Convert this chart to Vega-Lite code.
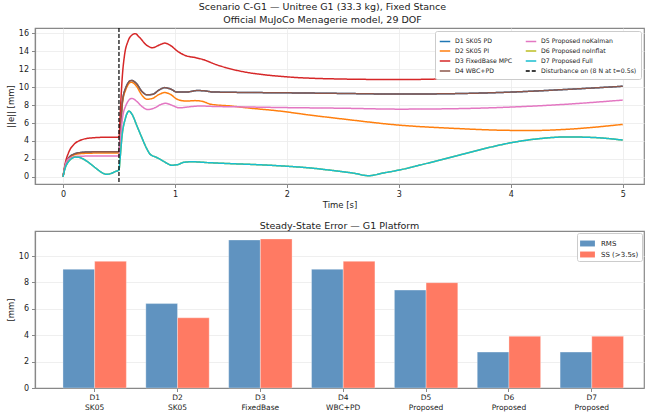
{
  "$schema": "https://vega.github.io/schema/vega-lite/v6.json",
  "padding": {"left": 5, "top": 1, "right": 0, "bottom": 0},
  "spacing": 9,
  "resolve": {"scale": {"color": "independent", "strokeDash": "independent"}, "legend": {"color": "independent", "strokeDash": "independent"}},
  "config": {
    "font": "DejaVu Sans",
    "view": {"stroke": "#888", "strokeWidth": 1.2},
    "axis": {"domainColor": "#888", "domainWidth": 1.2, "tickColor": "#888", "tickSize": 3.5, "labelColor": "#222", "labelFontSize": 8, "labelPadding": 3, "titleFontSize": 8.5, "titleFontWeight": "normal", "titleColor": "#222", "gridColor": "#ebebeb", "gridWidth": 0.8},
    "title": {"fontSize": 9.5, "fontWeight": "normal", "color": "#222"},
    "legend": {"labelFontSize": 6.2, "labelColor": "#222", "fillColor": "white", "strokeColor": "#ccc", "padding": 4, "cornerRadius": 2}
  },
  "datasets": {
    "traj": [
      {"series":"D1 SK05 PD","t":0,"v":0},{"series":"D1 SK05 PD","t":0.02,"v":1.3},{"series":"D1 SK05 PD","t":0.05,"v":2.1},{"series":"D1 SK05 PD","t":0.1,"v":2.55},{"series":"D1 SK05 PD","t":0.15,"v":2.7},{"series":"D1 SK05 PD","t":0.2,"v":2.76},{"series":"D1 SK05 PD","t":0.3,"v":2.79},{"series":"D1 SK05 PD","t":0.5,"v":2.8},{"series":"D1 SK05 PD","t":0.515,"v":5.5},{"series":"D1 SK05 PD","t":0.53,"v":8.3},{"series":"D1 SK05 PD","t":0.56,"v":9.9},{"series":"D1 SK05 PD","t":0.61,"v":10.75},{"series":"D1 SK05 PD","t":0.66,"v":10.35},{"series":"D1 SK05 PD","t":0.7,"v":9.6},{"series":"D1 SK05 PD","t":0.75,"v":9.15},{"series":"D1 SK05 PD","t":0.8,"v":9.2},{"series":"D1 SK05 PD","t":0.86,"v":9.7},{"series":"D1 SK05 PD","t":0.91,"v":9.95},{"series":"D1 SK05 PD","t":0.96,"v":9.8},{"series":"D1 SK05 PD","t":1.02,"v":9.45},{"series":"D1 SK05 PD","t":1.1,"v":9.45},{"series":"D1 SK05 PD","t":1.2,"v":9.62},{"series":"D1 SK05 PD","t":1.26,"v":9.6},{"series":"D1 SK05 PD","t":1.33,"v":9.47},{"series":"D1 SK05 PD","t":1.5,"v":9.43},{"series":"D1 SK05 PD","t":2.0,"v":9.37},{"series":"D1 SK05 PD","t":2.5,"v":9.3},{"series":"D1 SK05 PD","t":3.0,"v":9.23},{"series":"D1 SK05 PD","t":3.5,"v":9.28},{"series":"D1 SK05 PD","t":4.0,"v":9.45},{"series":"D1 SK05 PD","t":4.5,"v":9.75},{"series":"D1 SK05 PD","t":5.0,"v":10.1},

      {"series":"D2 SK05 PI","t":0,"v":0},{"series":"D2 SK05 PI","t":0.02,"v":1.25},{"series":"D2 SK05 PI","t":0.05,"v":2.0},{"series":"D2 SK05 PI","t":0.1,"v":2.45},{"series":"D2 SK05 PI","t":0.15,"v":2.58},{"series":"D2 SK05 PI","t":0.2,"v":2.62},{"series":"D2 SK05 PI","t":0.3,"v":2.65},{"series":"D2 SK05 PI","t":0.5,"v":2.66},{"series":"D2 SK05 PI","t":0.515,"v":5.3},{"series":"D2 SK05 PI","t":0.53,"v":8.1},{"series":"D2 SK05 PI","t":0.56,"v":9.7},{"series":"D2 SK05 PI","t":0.61,"v":10.55},{"series":"D2 SK05 PI","t":0.66,"v":10.05},{"series":"D2 SK05 PI","t":0.7,"v":9.2},{"series":"D2 SK05 PI","t":0.75,"v":8.65},{"series":"D2 SK05 PI","t":0.8,"v":8.75},{"series":"D2 SK05 PI","t":0.86,"v":9.2},{"series":"D2 SK05 PI","t":0.91,"v":9.4},{"series":"D2 SK05 PI","t":0.96,"v":9.2},{"series":"D2 SK05 PI","t":1.02,"v":8.65},{"series":"D2 SK05 PI","t":1.1,"v":8.45},{"series":"D2 SK05 PI","t":1.18,"v":8.5},{"series":"D2 SK05 PI","t":1.25,"v":8.4},{"series":"D2 SK05 PI","t":1.32,"v":8.1},{"series":"D2 SK05 PI","t":1.5,"v":7.9},{"series":"D2 SK05 PI","t":1.64,"v":7.7},{"series":"D2 SK05 PI","t":1.94,"v":7.33},{"series":"D2 SK05 PI","t":2.2,"v":6.9},{"series":"D2 SK05 PI","t":2.5,"v":6.45},{"series":"D2 SK05 PI","t":3.0,"v":5.77},{"series":"D2 SK05 PI","t":3.5,"v":5.4},{"series":"D2 SK05 PI","t":4.0,"v":5.18},{"series":"D2 SK05 PI","t":4.2,"v":5.17},{"series":"D2 SK05 PI","t":4.5,"v":5.3},{"series":"D2 SK05 PI","t":5.0,"v":5.85},

      {"series":"D3 FixedBase MPC","t":0,"v":0},{"series":"D3 FixedBase MPC","t":0.02,"v":1.5},{"series":"D3 FixedBase MPC","t":0.05,"v":2.7},{"series":"D3 FixedBase MPC","t":0.1,"v":3.65},{"series":"D3 FixedBase MPC","t":0.15,"v":4.05},{"series":"D3 FixedBase MPC","t":0.2,"v":4.25},{"series":"D3 FixedBase MPC","t":0.3,"v":4.38},{"series":"D3 FixedBase MPC","t":0.4,"v":4.42},{"series":"D3 FixedBase MPC","t":0.5,"v":4.43},{"series":"D3 FixedBase MPC","t":0.515,"v":8.0},{"series":"D3 FixedBase MPC","t":0.53,"v":11.2},{"series":"D3 FixedBase MPC","t":0.55,"v":13.6},{"series":"D3 FixedBase MPC","t":0.58,"v":15.1},{"series":"D3 FixedBase MPC","t":0.62,"v":15.85},{"series":"D3 FixedBase MPC","t":0.645,"v":15.97},{"series":"D3 FixedBase MPC","t":0.68,"v":15.6},{"series":"D3 FixedBase MPC","t":0.75,"v":14.65},{"series":"D3 FixedBase MPC","t":0.8,"v":14.4},{"series":"D3 FixedBase MPC","t":0.86,"v":14.7},{"series":"D3 FixedBase MPC","t":0.91,"v":14.92},{"series":"D3 FixedBase MPC","t":0.96,"v":14.65},{"series":"D3 FixedBase MPC","t":1.03,"v":13.95},{"series":"D3 FixedBase MPC","t":1.1,"v":13.5},{"series":"D3 FixedBase MPC","t":1.18,"v":13.3},{"series":"D3 FixedBase MPC","t":1.26,"v":13.05},{"series":"D3 FixedBase MPC","t":1.35,"v":12.6},{"series":"D3 FixedBase MPC","t":1.45,"v":12.2},{"series":"D3 FixedBase MPC","t":1.6,"v":11.75},{"series":"D3 FixedBase MPC","t":1.8,"v":11.38},{"series":"D3 FixedBase MPC","t":2.0,"v":11.15},{"series":"D3 FixedBase MPC","t":2.4,"v":10.93},{"series":"D3 FixedBase MPC","t":3.0,"v":10.85},{"series":"D3 FixedBase MPC","t":3.5,"v":10.95},{"series":"D3 FixedBase MPC","t":4.0,"v":11.15},{"series":"D3 FixedBase MPC","t":4.5,"v":11.45},{"series":"D3 FixedBase MPC","t":5.0,"v":11.8},

      {"series":"D4 WBC+PD","t":0,"v":0},{"series":"D4 WBC+PD","t":0.02,"v":1.3},{"series":"D4 WBC+PD","t":0.05,"v":2.1},{"series":"D4 WBC+PD","t":0.1,"v":2.55},{"series":"D4 WBC+PD","t":0.15,"v":2.7},{"series":"D4 WBC+PD","t":0.2,"v":2.76},{"series":"D4 WBC+PD","t":0.3,"v":2.79},{"series":"D4 WBC+PD","t":0.5,"v":2.8},{"series":"D4 WBC+PD","t":0.515,"v":5.5},{"series":"D4 WBC+PD","t":0.53,"v":8.3},{"series":"D4 WBC+PD","t":0.56,"v":9.9},{"series":"D4 WBC+PD","t":0.61,"v":10.75},{"series":"D4 WBC+PD","t":0.66,"v":10.35},{"series":"D4 WBC+PD","t":0.7,"v":9.6},{"series":"D4 WBC+PD","t":0.75,"v":9.15},{"series":"D4 WBC+PD","t":0.8,"v":9.2},{"series":"D4 WBC+PD","t":0.86,"v":9.7},{"series":"D4 WBC+PD","t":0.91,"v":9.95},{"series":"D4 WBC+PD","t":0.96,"v":9.8},{"series":"D4 WBC+PD","t":1.02,"v":9.45},{"series":"D4 WBC+PD","t":1.1,"v":9.45},{"series":"D4 WBC+PD","t":1.2,"v":9.62},{"series":"D4 WBC+PD","t":1.26,"v":9.6},{"series":"D4 WBC+PD","t":1.33,"v":9.47},{"series":"D4 WBC+PD","t":1.5,"v":9.43},{"series":"D4 WBC+PD","t":2.0,"v":9.37},{"series":"D4 WBC+PD","t":2.5,"v":9.3},{"series":"D4 WBC+PD","t":3.0,"v":9.23},{"series":"D4 WBC+PD","t":3.5,"v":9.28},{"series":"D4 WBC+PD","t":4.0,"v":9.45},{"series":"D4 WBC+PD","t":4.5,"v":9.75},{"series":"D4 WBC+PD","t":5.0,"v":10.1},

      {"series":"D5 Proposed noKalman","t":0,"v":0},{"series":"D5 Proposed noKalman","t":0.02,"v":1.3},{"series":"D5 Proposed noKalman","t":0.05,"v":2.0},{"series":"D5 Proposed noKalman","t":0.1,"v":2.25},{"series":"D5 Proposed noKalman","t":0.15,"v":2.3},{"series":"D5 Proposed noKalman","t":0.3,"v":2.32},{"series":"D5 Proposed noKalman","t":0.5,"v":2.33},{"series":"D5 Proposed noKalman","t":0.515,"v":4.5},{"series":"D5 Proposed noKalman","t":0.53,"v":6.4},{"series":"D5 Proposed noKalman","t":0.56,"v":7.9},{"series":"D5 Proposed noKalman","t":0.615,"v":8.75},{"series":"D5 Proposed noKalman","t":0.66,"v":8.4},{"series":"D5 Proposed noKalman","t":0.7,"v":7.9},{"series":"D5 Proposed noKalman","t":0.76,"v":7.5},{"series":"D5 Proposed noKalman","t":0.82,"v":7.7},{"series":"D5 Proposed noKalman","t":0.88,"v":8.1},{"series":"D5 Proposed noKalman","t":0.92,"v":8.2},{"series":"D5 Proposed noKalman","t":0.97,"v":8.0},{"series":"D5 Proposed noKalman","t":1.04,"v":7.7},{"series":"D5 Proposed noKalman","t":1.12,"v":7.8},{"series":"D5 Proposed noKalman","t":1.22,"v":7.9},{"series":"D5 Proposed noKalman","t":1.35,"v":7.85},{"series":"D5 Proposed noKalman","t":1.6,"v":7.8},{"series":"D5 Proposed noKalman","t":2.0,"v":7.72},{"series":"D5 Proposed noKalman","t":2.5,"v":7.65},{"series":"D5 Proposed noKalman","t":3.0,"v":7.55},{"series":"D5 Proposed noKalman","t":3.5,"v":7.6},{"series":"D5 Proposed noKalman","t":4.0,"v":7.78},{"series":"D5 Proposed noKalman","t":4.5,"v":8.1},{"series":"D5 Proposed noKalman","t":5.0,"v":8.56},

      {"series":"D6 Proposed noInflat","t":0,"v":0},{"series":"D6 Proposed noInflat","t":0.02,"v":1.0},{"series":"D6 Proposed noInflat","t":0.05,"v":1.7},{"series":"D6 Proposed noInflat","t":0.08,"v":2.05},{"series":"D6 Proposed noInflat","t":0.11,"v":2.2},{"series":"D6 Proposed noInflat","t":0.15,"v":2.15},{"series":"D6 Proposed noInflat","t":0.2,"v":1.85},{"series":"D6 Proposed noInflat","t":0.25,"v":1.4},{"series":"D6 Proposed noInflat","t":0.3,"v":0.9},{"series":"D6 Proposed noInflat","t":0.35,"v":0.45},{"series":"D6 Proposed noInflat","t":0.39,"v":0.28},{"series":"D6 Proposed noInflat","t":0.43,"v":0.38},{"series":"D6 Proposed noInflat","t":0.47,"v":0.6},{"series":"D6 Proposed noInflat","t":0.5,"v":0.75},{"series":"D6 Proposed noInflat","t":0.51,"v":2.0},{"series":"D6 Proposed noInflat","t":0.527,"v":4.5},{"series":"D6 Proposed noInflat","t":0.557,"v":6.5},{"series":"D6 Proposed noInflat","t":0.59,"v":7.33},{"series":"D6 Proposed noInflat","t":0.62,"v":6.9},{"series":"D6 Proposed noInflat","t":0.66,"v":5.7},{"series":"D6 Proposed noInflat","t":0.7,"v":4.5},{"series":"D6 Proposed noInflat","t":0.75,"v":3.1},{"series":"D6 Proposed noInflat","t":0.78,"v":2.5},{"series":"D6 Proposed noInflat","t":0.83,"v":2.2},{"series":"D6 Proposed noInflat","t":0.87,"v":1.94},{"series":"D6 Proposed noInflat","t":0.93,"v":1.5},{"series":"D6 Proposed noInflat","t":0.97,"v":1.3},{"series":"D6 Proposed noInflat","t":1.02,"v":1.35},{"series":"D6 Proposed noInflat","t":1.08,"v":1.62},{"series":"D6 Proposed noInflat","t":1.15,"v":1.68},{"series":"D6 Proposed noInflat","t":1.3,"v":1.58},{"series":"D6 Proposed noInflat","t":1.5,"v":1.47},{"series":"D6 Proposed noInflat","t":1.8,"v":1.32},{"series":"D6 Proposed noInflat","t":2.0,"v":1.18},{"series":"D6 Proposed noInflat","t":2.2,"v":1.0},{"series":"D6 Proposed noInflat","t":2.4,"v":0.72},{"series":"D6 Proposed noInflat","t":2.6,"v":0.4},{"series":"D6 Proposed noInflat","t":2.73,"v":0.12},{"series":"D6 Proposed noInflat","t":2.85,"v":0.4},{"series":"D6 Proposed noInflat","t":3.0,"v":0.75},{"series":"D6 Proposed noInflat","t":3.25,"v":1.5},{"series":"D6 Proposed noInflat","t":3.5,"v":2.3},{"series":"D6 Proposed noInflat","t":3.75,"v":3.1},{"series":"D6 Proposed noInflat","t":4.0,"v":3.8},{"series":"D6 Proposed noInflat","t":4.25,"v":4.25},{"series":"D6 Proposed noInflat","t":4.5,"v":4.45},{"series":"D6 Proposed noInflat","t":4.75,"v":4.38},{"series":"D6 Proposed noInflat","t":5.0,"v":4.1},

      {"series":"D7 Proposed Full","t":0,"v":0},{"series":"D7 Proposed Full","t":0.02,"v":1.0},{"series":"D7 Proposed Full","t":0.05,"v":1.7},{"series":"D7 Proposed Full","t":0.08,"v":2.05},{"series":"D7 Proposed Full","t":0.11,"v":2.2},{"series":"D7 Proposed Full","t":0.15,"v":2.15},{"series":"D7 Proposed Full","t":0.2,"v":1.85},{"series":"D7 Proposed Full","t":0.25,"v":1.4},{"series":"D7 Proposed Full","t":0.3,"v":0.9},{"series":"D7 Proposed Full","t":0.35,"v":0.45},{"series":"D7 Proposed Full","t":0.39,"v":0.28},{"series":"D7 Proposed Full","t":0.43,"v":0.38},{"series":"D7 Proposed Full","t":0.47,"v":0.6},{"series":"D7 Proposed Full","t":0.5,"v":0.75},{"series":"D7 Proposed Full","t":0.51,"v":2.0},{"series":"D7 Proposed Full","t":0.527,"v":4.5},{"series":"D7 Proposed Full","t":0.557,"v":6.5},{"series":"D7 Proposed Full","t":0.59,"v":7.33},{"series":"D7 Proposed Full","t":0.62,"v":6.9},{"series":"D7 Proposed Full","t":0.66,"v":5.7},{"series":"D7 Proposed Full","t":0.7,"v":4.5},{"series":"D7 Proposed Full","t":0.75,"v":3.1},{"series":"D7 Proposed Full","t":0.78,"v":2.5},{"series":"D7 Proposed Full","t":0.83,"v":2.2},{"series":"D7 Proposed Full","t":0.87,"v":1.94},{"series":"D7 Proposed Full","t":0.93,"v":1.5},{"series":"D7 Proposed Full","t":0.97,"v":1.3},{"series":"D7 Proposed Full","t":1.02,"v":1.35},{"series":"D7 Proposed Full","t":1.08,"v":1.62},{"series":"D7 Proposed Full","t":1.15,"v":1.68},{"series":"D7 Proposed Full","t":1.3,"v":1.58},{"series":"D7 Proposed Full","t":1.5,"v":1.47},{"series":"D7 Proposed Full","t":1.8,"v":1.32},{"series":"D7 Proposed Full","t":2.0,"v":1.18},{"series":"D7 Proposed Full","t":2.2,"v":1.0},{"series":"D7 Proposed Full","t":2.4,"v":0.72},{"series":"D7 Proposed Full","t":2.6,"v":0.4},{"series":"D7 Proposed Full","t":2.73,"v":0.12},{"series":"D7 Proposed Full","t":2.85,"v":0.4},{"series":"D7 Proposed Full","t":3.0,"v":0.75},{"series":"D7 Proposed Full","t":3.25,"v":1.5},{"series":"D7 Proposed Full","t":3.5,"v":2.3},{"series":"D7 Proposed Full","t":3.75,"v":3.1},{"series":"D7 Proposed Full","t":4.0,"v":3.8},{"series":"D7 Proposed Full","t":4.25,"v":4.25},{"series":"D7 Proposed Full","t":4.5,"v":4.45},{"series":"D7 Proposed Full","t":4.75,"v":4.38},{"series":"D7 Proposed Full","t":5.0,"v":4.1}
    ],
    "dist": [{"series": "Disturbance on (8 N at t=0.5s)", "t": 0.5}],
    "bars": [
      {"ctrl":"D1|SK05","metric":"RMS","val":9.0},{"ctrl":"D1|SK05","metric":"SS (>3.5s)","val":9.6},
      {"ctrl":"D2|SK05","metric":"RMS","val":6.4},{"ctrl":"D2|SK05","metric":"SS (>3.5s)","val":5.32},
      {"ctrl":"D3|FixedBase","metric":"RMS","val":11.22},{"ctrl":"D3|FixedBase","metric":"SS (>3.5s)","val":11.3},
      {"ctrl":"D4|WBC+PD","metric":"RMS","val":9.0},{"ctrl":"D4|WBC+PD","metric":"SS (>3.5s)","val":9.6},
      {"ctrl":"D5|Proposed","metric":"RMS","val":7.42},{"ctrl":"D5|Proposed","metric":"SS (>3.5s)","val":7.98},
      {"ctrl":"D6|Proposed","metric":"RMS","val":2.72},{"ctrl":"D6|Proposed","metric":"SS (>3.5s)","val":3.92},
      {"ctrl":"D7|Proposed","metric":"RMS","val":2.72},{"ctrl":"D7|Proposed","metric":"SS (>3.5s)","val":3.92}
    ]
  },
  "vconcat": [
    {
      "width": 609,
      "height": 156,
      "title": {"text": ["Scenario C-G1 — Unitree G1 (33.3 kg), Fixed Stance", "Official MuJoCo Menagerie model, 29 DOF"], "dx": -17, "offset": 3, "lineHeight": 13},
      "encoding": {
        "x": {"field": "t", "type": "quantitative", "scale": {"domain": [-0.25, 5.19], "nice": false, "zero": false}, "axis": {"values": [0, 1, 2, 3, 4, 5], "title": "Time [s]", "titlePadding": 2}},
        "color": {"field": "series", "type": "nominal",
          "scale": {"domain": ["D1 SK05 PD", "D2 SK05 PI", "D3 FixedBase MPC", "D4 WBC+PD", "D5 Proposed noKalman", "D6 Proposed noInflat", "D7 Proposed Full", "Disturbance on (8 N at t=0.5s)"],
                    "range": ["#1f77b4", "#ff7f0e", "#d62728", "#8c564b", "#e377c2", "#bcbd22", "#17becf", "#000000"]},
          "legend": {"title": null, "orient": "top-right", "offset": 3, "columns": 2, "symbolType": "stroke", "symbolSize": 110, "symbolStrokeWidth": 1.5, "rowPadding": -1, "columnPadding": 9, "labelOffset": 4}},
        "strokeDash": {"field": "series", "type": "nominal",
          "scale": {"domain": ["D1 SK05 PD", "D2 SK05 PI", "D3 FixedBase MPC", "D4 WBC+PD", "D5 Proposed noKalman", "D6 Proposed noInflat", "D7 Proposed Full", "Disturbance on (8 N at t=0.5s)"],
                    "range": [[1, 0], [1, 0], [1, 0], [1, 0], [1, 0], [1, 0], [1, 0], [4, 2]]},
          "legend": {"title": null, "orient": "top-right", "offset": 3, "columns": 2, "symbolType": "stroke", "symbolSize": 110, "symbolStrokeWidth": 1.5, "rowPadding": -1, "columnPadding": 9, "labelOffset": 4}}
      },
      "layer": [
        {
          "data": {"name": "traj"},
          "mark": {"type": "line", "interpolate": "monotone", "strokeWidth": 1.5},
          "encoding": {
            "y": {"field": "v", "type": "quantitative", "scale": {"domain": [-0.8, 16.6], "nice": false, "zero": false}, "axis": {"values": [0, 2, 4, 6, 8, 10, 12, 14, 16], "title": "||e|| [mm]", "titlePadding": 3}}
          }
        },
        {
          "data": {"name": "dist"},
          "mark": {"type": "rule", "strokeWidth": 1.2},
          "encoding": {}
        }
      ]
    },
    {
      "width": 609,
      "height": 157,
      "title": {"text": "Steady-State Error — G1 Platform", "offset": 1},
      "data": {"name": "bars"},
      "mark": {"type": "bar", "stroke": "white", "strokeOpacity": 0.4, "strokeWidth": 0.8},
      "encoding": {
        "x": {"field": "ctrl", "type": "nominal", "sort": null,
          "scale": {"paddingInner": 0.235, "paddingOuter": 0.2925, "align": 0.577},
          "axis": {"title": null, "labelAngle": 0, "labelExpr": "split(datum.label, '|')", "labelFontSize": 7.5, "labelLineHeight": 10, "grid": false, "labelPadding": 2}},
        "xOffset": {"field": "metric", "type": "nominal", "scale": {"domain": ["RMS", "SS (>3.5s)"], "paddingInner": 0, "paddingOuter": 0}},
        "y": {"field": "val", "type": "quantitative", "scale": {"domain": [0, 11.9], "nice": false}, "axis": {"values": [0, 2, 4, 6, 8, 10], "title": "[mm]", "titlePadding": 3}},
        "color": {"field": "metric", "type": "nominal", "scale": {"domain": ["RMS", "SS (>3.5s)"], "range": ["#6093c0", "#ff7a63"]},
          "legend": {"title": null, "orient": "top-right", "offset": 2, "symbolType": "M-1,-0.4H1V0.4H-1Z", "symbolSize": 220, "symbolStrokeWidth": 0, "labelFontSize": 7, "rowPadding": -4, "labelOffset": 6, "padding": 3}}
      }
    }
  ]
}
